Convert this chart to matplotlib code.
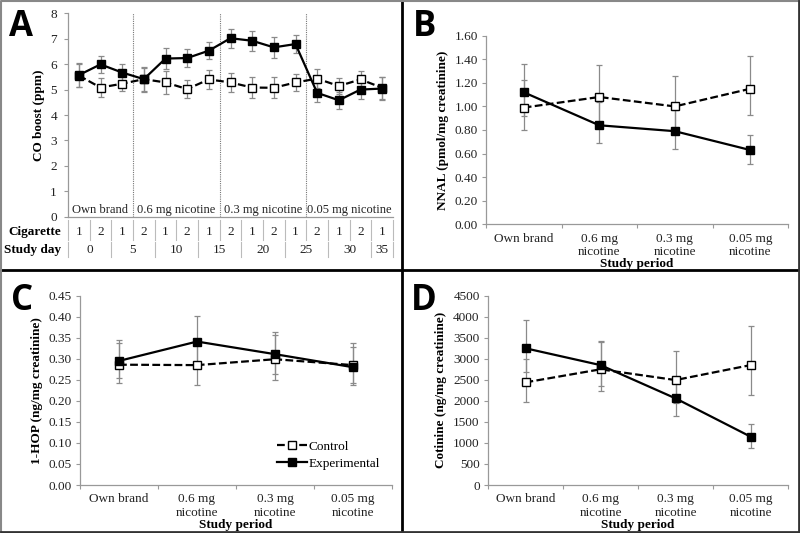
import numpy as np
import matplotlib
matplotlib.use("Agg")
import matplotlib.pyplot as plt
from matplotlib.lines import Line2D

plt.rcParams['font.family'] = ['Liberation Serif', 'DejaVu Serif']
plt.rcParams['font.size'] = 9.5

# ---- data -------------------------------------------------------------
a_cigarette = [1, 2, 1, 2, 1, 2, 1, 2, 1, 2, 1, 2, 1, 2, 1]
a_study_day = [0, 5, 10, 15, 20, 25, 30, 35]
a_periods = ["Own brand", "0.6 mg nicotine", "0.3 mg nicotine", "0.05 mg nicotine"]
a_exp = [5.57, 5.99, 5.67, 5.41, 6.22, 6.24, 6.53, 7.02, 6.92, 6.66, 6.79, 4.87, 4.58, 5.00, 5.04]
a_exp_err = [0.47, 0.35, 0.33, 0.49, 0.40, 0.37, 0.34, 0.37, 0.40, 0.40, 0.34, 0.37, 0.33, 0.36, 0.45]
a_ctrl = [5.55, 5.08, 5.23, 5.41, 5.28, 5.02, 5.40, 5.28, 5.08, 5.07, 5.28, 5.43, 5.14, 5.40, 5.07]
a_ctrl_err = [0.45, 0.36, 0.30, 0.45, 0.45, 0.36, 0.36, 0.38, 0.40, 0.41, 0.35, 0.37, 0.33, 0.33, 0.43]

periods = ["Own brand", "0.6 mg\nnicotine", "0.3 mg\nnicotine", "0.05 mg\nnicotine"]

b_ctrl = [0.99, 1.08, 1.00, 1.15]
b_ctrl_lo = [0.80, 0.86, 0.79, 0.93]
b_ctrl_hi = [1.22, 1.35, 1.26, 1.43]
b_exp = [1.12, 0.84, 0.79, 0.63]
b_exp_lo = [0.92, 0.69, 0.64, 0.51]
b_exp_hi = [1.36, 1.04, 0.97, 0.76]

c_ctrl = [0.286, 0.285, 0.299, 0.285]
c_ctrl_lo = [0.242, 0.238, 0.250, 0.238]
c_ctrl_hi = [0.337, 0.335, 0.357, 0.329]
c_exp = [0.295, 0.341, 0.311, 0.280]
c_exp_lo = [0.254, 0.290, 0.263, 0.242]
c_exp_hi = [0.345, 0.402, 0.364, 0.338]

d_ctrl = [2440, 2750, 2495, 2850]
d_ctrl_lo = [1980, 2240, 1940, 2140]
d_ctrl_hi = [2990, 3390, 3190, 3780]
d_exp = [3250, 2850, 2060, 1150]
d_exp_lo = [2680, 2350, 1640, 890]
d_exp_hi = [3920, 3420, 2500, 1450]

GRAY = '#999999'
ERR = '#8a8a8a'
TXT = '#222222'


def style_axes(ax):
    for s in ['top', 'right']:
        ax.spines[s].set_visible(False)
    for s in ['left', 'bottom']:
        ax.spines[s].set_color(GRAY)
        ax.spines[s].set_linewidth(0.9)
    ax.tick_params(axis='y', colors=GRAY, labelcolor=TXT, length=3, width=0.8, pad=3)


def draw(ax, x, ctrl, c_lo, c_hi, exp, e_lo, e_hi):
    ctrl = np.array(ctrl); exp = np.array(exp)
    ax.errorbar(x, ctrl, yerr=[ctrl - np.array(c_lo), np.array(c_hi) - ctrl], fmt='none',
                ecolor=ERR, elinewidth=0.9, capsize=2.5, capthick=0.9, zorder=2)
    ax.errorbar(x, exp, yerr=[exp - np.array(e_lo), np.array(e_hi) - exp], fmt='none',
                ecolor=ERR, elinewidth=0.9, capsize=2.5, capthick=0.9, zorder=2)
    ax.plot(x, ctrl, color='black', lw=1.6, ls='--', dashes=(3.5, 1.5), marker='s', ms=5.5,
            mfc='white', mec='black', mew=1.0, label='Control', zorder=3)
    ax.plot(x, exp, color='black', lw=1.6, marker='s', ms=5.5, mfc='black', mec='black',
            label='Experimental', zorder=4)


def period_axis(ax, ylabel):
    style_axes(ax)
    ax.set_xlim(-0.5, 3.5)
    ax.set_xticks(range(4))
    ax.set_xticklabels(periods, linespacing=1.15)
    ax.set_xticks(np.arange(-0.5, 4, 1), minor=True)
    ax.tick_params(axis='x', which='major', length=0, pad=6, labelcolor=TXT)
    ax.tick_params(axis='x', which='minor', length=3, color=GRAY, width=0.8)
    ax.set_xlabel('Study period', fontweight='bold', labelpad=0)
    ax.set_ylabel(ylabel, fontweight='bold', labelpad=4)


fig = plt.figure(figsize=(8, 5.33), dpi=100)
W, H = 800, 533

# ---- A -----------------------------------------------------------------
axA = fig.add_axes([68 / W, 1 - 216.7 / H, 325 / W, 203.4 / H])
style_axes(axA)
xa = np.arange(len(a_exp))
axA.errorbar(xa, a_ctrl, yerr=a_ctrl_err, fmt='none', ecolor=ERR, elinewidth=0.9,
             capsize=2.5, capthick=0.9, zorder=2)
axA.errorbar(xa, a_exp, yerr=a_exp_err, fmt='none', ecolor=ERR, elinewidth=0.9,
             capsize=2.5, capthick=0.9, zorder=2)
axA.plot(xa, a_ctrl, color='black', lw=1.6, ls='--', dashes=(3.5, 1.5), marker='s', ms=5.5,
         mfc='white', mec='black', mew=1.0, zorder=3)
axA.plot(xa, a_exp, color='black', lw=1.6, marker='s', ms=5.5, mfc='black', zorder=4)
axA.set_xlim(-0.5, len(a_exp) - 0.5)
axA.set_ylim(0, 8)
axA.set_yticks(range(9))
axA.set_xticks([])
axA.tick_params(axis='y', pad=5)
axA.set_ylabel('CO boost (ppm)', fontweight='bold', labelpad=4)
for b in [2.5, 6.5, 10.5]:
    axA.axvline(b, color='#777777', lw=0.8, ls=(0, (1, 1)), zorder=1)
for p, c in zip(a_periods, [1, 4.5, 8.5, 12.5]):
    axA.text(c, 0.03, p, ha='center', va='bottom', fontsize=9, color=TXT)

tr = axA.get_xaxis_transform()
# cigarette row
for i, v in enumerate(a_cigarette):
    axA.text(i, -0.074, str(v), transform=tr, ha='center', va='center', fontsize=9.5,
             color=TXT)
for b in np.arange(-0.5, len(a_exp), 1):
    axA.add_line(Line2D([b, b], [-0.015, -0.113], transform=tr, color='#bbbbbb', lw=0.8,
                        clip_on=False))
# study day row
day_pos = [0.5, 2.5, 4.5, 6.5, 8.5, 10.5, 12.5, 14]
for d, p in zip(a_study_day, day_pos):
    axA.text(p, -0.165, str(d), transform=tr, ha='center', va='center', fontsize=9.5,
             color=TXT)
for b in [-0.5, 1.5, 3.5, 5.5, 7.5, 9.5, 11.5, 13.5, 14.5]:
    axA.add_line(Line2D([b, b], [-0.123, -0.20], transform=tr, color='#bbbbbb', lw=0.8,
                        clip_on=False))
axA.text(-0.02, -0.074, 'Cigarette', transform=axA.transAxes, ha='right', va='center',
         fontweight='bold')
axA.text(-0.02, -0.165, 'Study day', transform=axA.transAxes, ha='right', va='center',
         fontweight='bold')

# ---- B -----------------------------------------------------------------
axB = fig.add_axes([486 / W, 1 - 224.3 / H, 302 / W, 188.6 / H])
draw(axB, range(4), b_ctrl, b_ctrl_lo, b_ctrl_hi, b_exp, b_exp_lo, b_exp_hi)
axB.set_ylim(0, 1.6)
axB.set_yticks(np.arange(0, 1.61, 0.2))
axB.set_yticklabels(['%.2f' % v for v in np.arange(0, 1.61, 0.2)])
period_axis(axB, 'NNAL (pmol/mg creatinine)')

# ---- C -----------------------------------------------------------------
axC = fig.add_axes([80 / W, 1 - 485 / H, 312 / W, 189.3 / H])
draw(axC, range(4), c_ctrl, c_ctrl_lo, c_ctrl_hi, c_exp, c_exp_lo, c_exp_hi)
axC.set_ylim(0, 0.45)
axC.set_yticks(np.arange(0, 0.451, 0.05))
axC.set_yticklabels(['%.2f' % v for v in np.arange(0, 0.451, 0.05)])
period_axis(axC, '1-HOP (ng/mg creatinine)')
axC.legend(loc='upper left', bbox_to_anchor=(0.61, 0.27), frameon=False, handlelength=2.3,
           handletextpad=0.1, borderpad=0, labelspacing=0.35, fontsize=9.5)

# ---- D -----------------------------------------------------------------
axD = fig.add_axes([488 / W, 1 - 485 / H, 300 / W, 189.3 / H])
draw(axD, range(4), d_ctrl, d_ctrl_lo, d_ctrl_hi, d_exp, d_exp_lo, d_exp_hi)
axD.set_ylim(0, 4500)
axD.set_yticks(range(0, 4501, 500))
period_axis(axD, 'Cotinine (ng/mg creatinine)')

# ---- panel letters and frame -------------------------------------------
for lab, x, y in [('A', 21, 27), ('B', 425, 27), ('C', 22, 301), ('D', 424, 301)]:
    fig.text(x / W, 1 - y / H, lab, ha='center', va='center', fontsize=25,
             fontweight='bold', family='Open Sans')

fig.add_artist(Line2D([402 / W, 402 / W], [0, 1], transform=fig.transFigure, color='black', lw=2))
fig.add_artist(Line2D([0, 1], [1 - 270 / H, 1 - 270 / H], transform=fig.transFigure,
                      color='black', lw=2))
fig.add_artist(Line2D([0.001, 0.001, 0.999], [0, 0.999, 0.999], transform=fig.transFigure,
                      color='#888888', lw=1.5))
fig.add_artist(Line2D([0.999, 0.999, 0.001], [0.999, 0.001, 0.001], transform=fig.transFigure,
                      color='#333333', lw=2))

fig.savefig('out.png', dpi=100)
